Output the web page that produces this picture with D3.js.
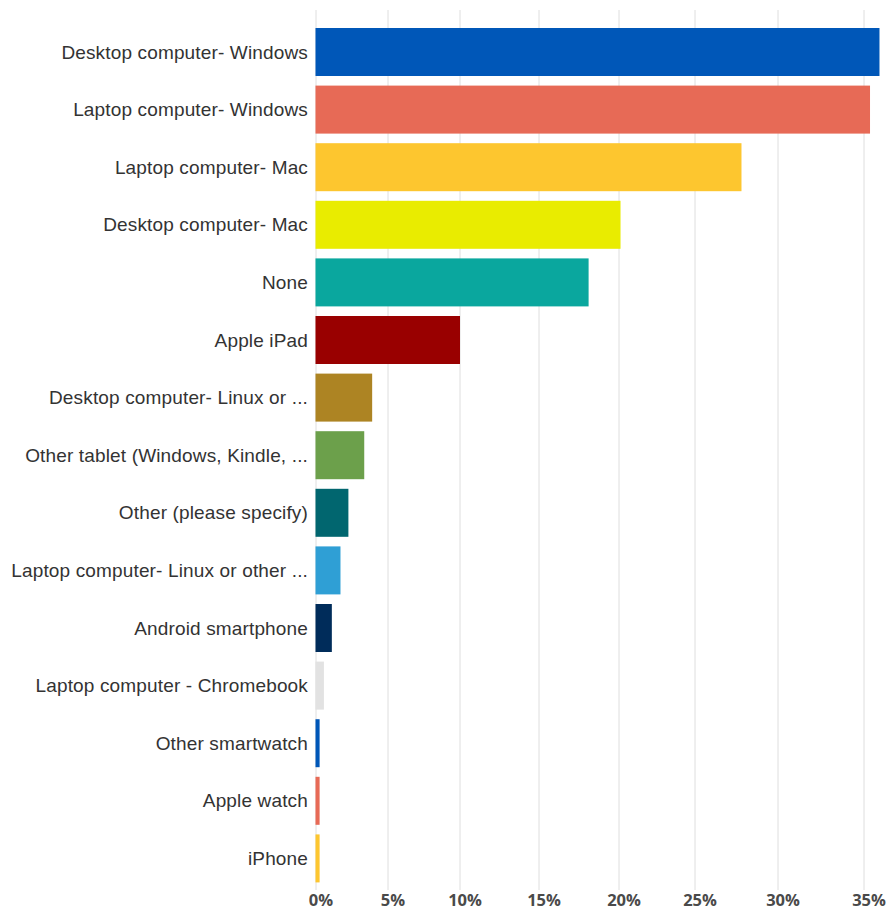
<!DOCTYPE html>
<html>
<head>
<meta charset="utf-8">
<script src="https://cdn.jsdelivr.net/npm/d3@7"></script>
<style>
  body { margin: 0; background: #fff; }
  .cat-label { font-family: "Liberation Sans", Arial, sans-serif; font-size: 19px; letter-spacing: 0.15px; fill: #333; }
  .tick-label { font-family: "Open Sans", sans-serif; font-weight: 700; font-size: 16.5px; fill: #4a4a4a; }
</style>
</head>
<body>
<div id="chart"></div>
<script>
const CATEGORIES = [
  "Desktop computer- Windows",
  "Laptop computer- Windows",
  "Laptop computer- Mac",
  "Desktop computer- Mac",
  "None",
  "Apple iPad",
  "Desktop computer- Linux or ...",
  "Other tablet (Windows, Kindle, ...",
  "Other (please specify)",
  "Laptop computer- Linux or other ...",
  "Android smartphone",
  "Laptop computer - Chromebook",
  "Other smartwatch",
  "Apple watch",
  "iPhone",
];

const VALUES = [35.9, 35.35, 27.8, 20.1, 18.1, 10.0, 3.9, 3.35, 2.25, 1.7, 1.1, 0.55, 0.25, 0.25, 0.25];

const COLORS = [
  "#0057b8", "#e76a56", "#fdc62f", "#e9ec00", "#0aa79e",
  "#990000", "#ad8423", "#6ca04b", "#01666f", "#2f9fd5",
  "#002c5a", "#e2e2e2", "#0057b8", "#e76a56", "#fdc62f",
];

const TICKS = [0, 5, 10, 15, 20, 25, 30, 35];

const width = 887;
const height = 912;

// the reference axis is not evenly spaced, so map each tick to its gridline
const x = d3.scaleLinear()
  .domain(TICKS)
  .range([316, 388, 460, 539, 619, 695, 778, 864]);

const y = d3.scaleBand()
  .domain(CATEGORIES)
  .range([23.2, 23.2 + CATEGORIES.length * 57.6])
  .paddingInner(0.1667)
  .paddingOuter(0.0833);

const svg = d3.select("#chart")
  .append("svg")
  .attr("width", width)
  .attr("height", height);

svg.append("g")
  .selectAll("line")
  .data(TICKS)
  .join("line")
  .attr("x1", (d) => x(d))
  .attr("x2", (d) => x(d))
  .attr("y1", 10)
  .attr("y2", 890)
  .attr("stroke", "#dedede")
  .attr("stroke-width", 1);

svg.append("g")
  .selectAll("rect")
  .data(CATEGORIES)
  .join("rect")
  .attr("x", x(0) - 0.5)
  .attr("y", (d) => y(d))
  .attr("width", (d, i) => x(VALUES[i]) - x(0) + 0.5)
  .attr("height", y.bandwidth())
  .attr("fill", (d, i) => COLORS[i]);

svg.append("g")
  .selectAll("text")
  .data(CATEGORIES)
  .join("text")
  .attr("class", "cat-label")
  .attr("x", 308)
  .attr("y", (d) => y(d) + y.bandwidth() / 2)
  .attr("dy", "0.35em")
  .attr("text-anchor", "end")
  .text((d) => d);

svg.append("g")
  .selectAll("text")
  .data(TICKS)
  .join("text")
  .attr("class", "tick-label")
  .attr("x", (d) => x(d) + 5)
  .attr("y", 906)
  .attr("text-anchor", "middle")
  .text((d) => `${d}%`);
</script>
</body>
</html>
